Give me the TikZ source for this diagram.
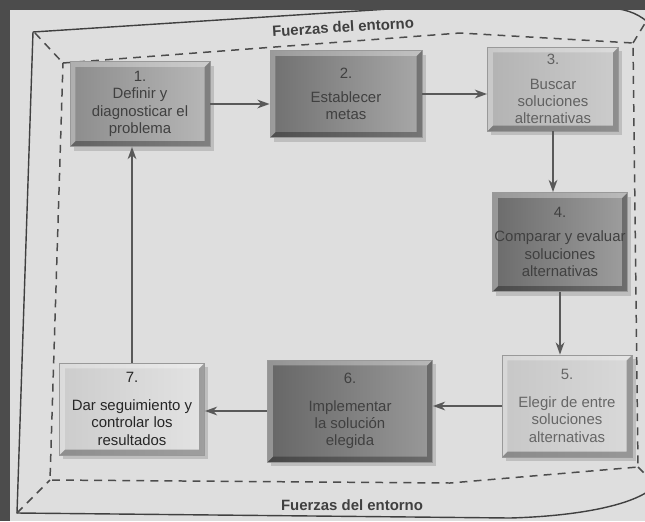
\documentclass[tikz,border=0pt]{standalone}
\usepackage{fontspec}
\setmainfont{Liberation Sans}
\usetikzlibrary{arrows.meta,shadows}

\definecolor{bgdark}{gray}{0.30}
\definecolor{paper}{gray}{0.87}
\definecolor{ink}{gray}{0.25}

\tikzset{
    stepbox/.style={rectangle, inner sep=0pt, align=center,
        font=\fontsize{8.5}{9.8}\selectfont, text=ink,
        draw=black!40, line width=0.5pt,
        drop shadow={shadow xshift=2pt, shadow yshift=-2.5pt, fill=black, opacity=0.14},
        path picture={
            \fill [black, opacity=0.3] (path picture bounding box.south west)
                -- (path picture bounding box.south east)
                -- (path picture bounding box.north east)
                -- ([shift={(-3pt,-3pt)}]path picture bounding box.north east)
                -- ([shift={(-3pt,3pt)}]path picture bounding box.south east)
                -- ([shift={(3pt,3pt)}]path picture bounding box.south west) -- cycle;
            \fill [white, opacity=0.3] (path picture bounding box.south west)
                -- (path picture bounding box.north west)
                -- (path picture bounding box.north east)
                -- ([shift={(-3pt,-3pt)}]path picture bounding box.north east)
                -- ([shift={(3pt,-3pt)}]path picture bounding box.north west)
                -- ([shift={(3pt,3pt)}]path picture bounding box.south west) -- cycle;
        }},
    flow/.style={->, >={Stealth[length=7pt,width=5pt]}, line width=0.8pt, draw=black!65},
    envline/.style={dash pattern=on 4.5pt off 3.5pt, line width=0.85pt, draw=black!70},
    frameline/.style={line width=0.8pt, draw=black!75},
    envlabel/.style={font=\bfseries\fontsize{8.5}{10}\selectfont, text=black!75},
}

\begin{document}
\begin{tikzpicture}[x=0.02cm, y=-0.02cm]
        \useasboundingbox (0,0) rectangle (645,521);
        \fill 
            [bgdark] (0,0) rectangle (645,521);
        \fill 
            [paper] (10,10) rectangle (645,521);
        \begin{scope}
            \clip (10,10) rectangle (645,521);
            \draw 
                [frameline] (33,32) -- (420,7);
            \draw 
                [frameline] (612,8) .. controls (630,10) and (640,15) .. (650,24);
            \draw 
                [frameline] (33,32) -- (17,513) -- (510,518) .. controls (580,516) and (630,505) .. (650,490);
            \draw 
                [envline] (63,63) -- (460,33) -- (633,43) -- (638,467) -- (450,483) -- (50,480) -- cycle;
            \draw 
                [envline] (35,33) -- (63,63);
            \draw 
                [envline] (17,513) -- (50,480);
            \draw 
                [envline] (633,43) -- (647,20);
            \draw 
                [envline] (638,467) -- (647,476);
        \end{scope}
        \node 
            [envlabel, rotate=3.5] (topforces) at (343,27) {Fuerzas del entorno};
        \node 
            [envlabel] (bottomforces) at (352,505) {Fuerzas del entorno};
        \node 
            [stepbox, left color=black!45, right color=black!28, minimum width=2.8cm, minimum height=1.7cm]
            (define) at (140,104) {1.\\Definir y\\diagnosticar el\\problema};
        \node 
            [stepbox, left color=black!56, right color=black!34, minimum width=3.04cm, minimum height=1.74cm]
            (goals) at (346,94) {2.\\[4pt]Establecer\\metas};
        \node 
            [stepbox, left color=black!30, right color=black!20, text=black!62, minimum width=2.62cm, minimum height=1.68cm]
            (search) at (553,89) {3.\\[4pt]Buscar\\soluciones\\alternativas};
        \node 
            [stepbox, left color=black!58, right color=black!38, minimum width=2.7cm, minimum height=1.98cm]
            (compare) at (560,242) {4.\\[4pt]Comparar y evaluar\\soluciones\\alternativas};
        \node 
            [stepbox, left color=black!22, right color=black!15, text=black!60, minimum width=2.6cm, minimum height=2.04cm]
            (choose) at (567,406) {5.\\[6pt]Elegir de entre\\soluciones\\alternativas};
        \node 
            [stepbox, left color=black!60, right color=black!40, minimum width=3.3cm, minimum height=2.04cm]
            (implement) at (350,411) {6.\\[6pt]Implementar\\la solución\\elegida};
        \node 
            [stepbox, left color=black!20, right color=black!11, text=black!85, minimum width=2.9cm, minimum height=1.84cm]
            (monitor) at (132,409) {7.\\[6pt]Dar seguimiento y\\controlar los\\resultados};
        \draw 
            [flow] (define.east) -- (goals.west |- define.east);
        \draw 
            [flow] (goals.east) -- (search.west |- goals.east);
        \draw 
            [flow] (search.south) -- (compare.north -| search.south);
        \draw 
            [flow] (compare.south) -- (choose.north -| compare.south);
        \draw 
            [flow] (choose.west) -- (implement.east |- choose.west);
        \draw 
            [flow] (implement.west) -- (monitor.east |- implement.west);
        \draw 
            [flow] (monitor.north) -- (define.south -| monitor.north);
    \end{tikzpicture}
\end{document}
